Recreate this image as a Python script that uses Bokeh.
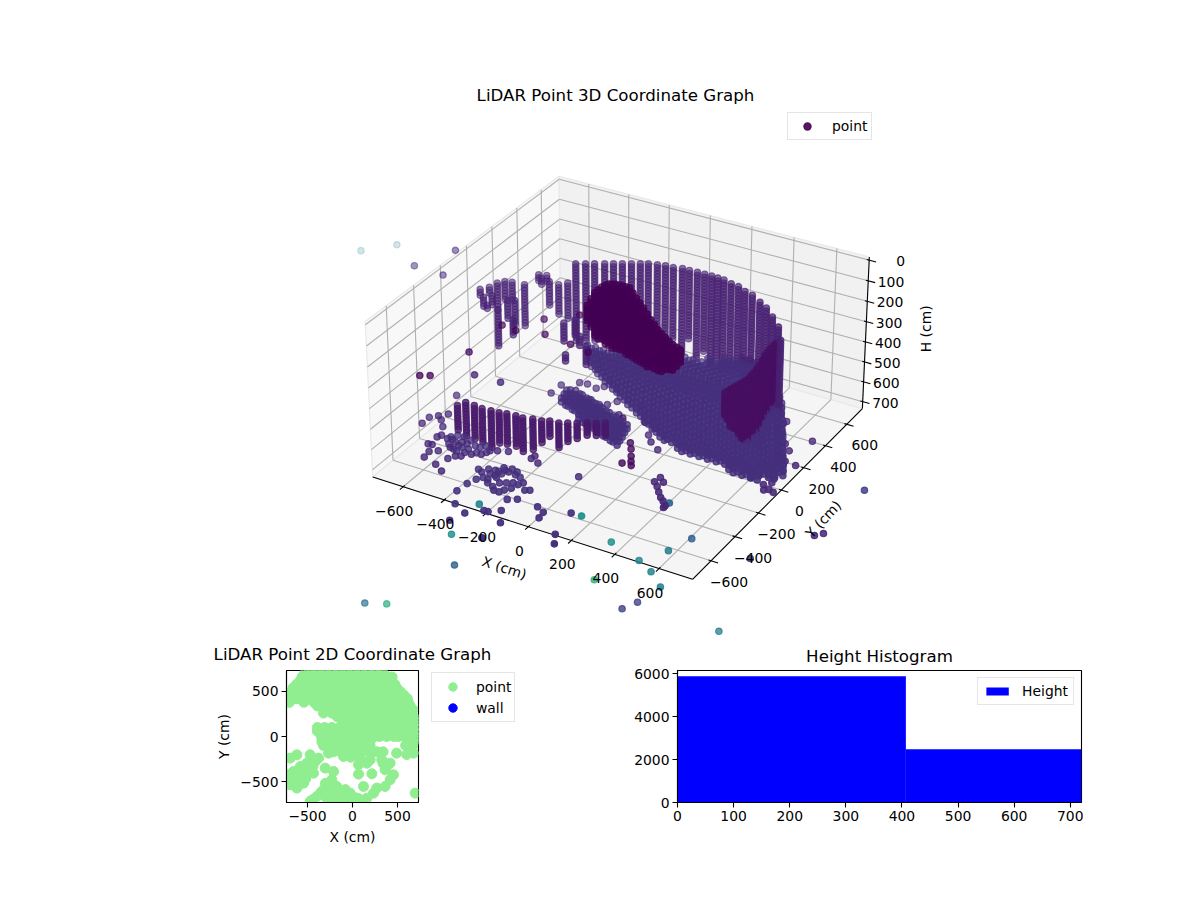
from bokeh.plotting import figure
from bokeh.layouts import column, row
from bokeh.models import (ColumnDataSource, FixedTicker, Legend, LegendItem, LinearColorMapper,
                          Range1d, Spacer)
from bokeh.core.properties import value
from bokeh.palettes import Viridis256
from bokeh.embed import file_html
from bokeh.resources import INLINE
import math

FONT = "DejaVu Sans"
TICK_PX = "13.9px"

# ---------------- 3D data: (X, Y, deepest H) columns ----------------
WALL_H = [250, 265, 280, 295, 310, 325, 340, 355, 370, 385, 400, 415, 430, 445, 460, 475, 490, 505, 520, 535, 550, 565,
          580, 595, 610, 625, 640, 655, 670, 685, 700]
WALL_COLS = [
    (-522, 505, 640), (-485, 526, 640), (-452, 546, 640), (-414, 567, 640), (-381, 586, 640), (-348, 605, 640),
    (-314, 625, 640), (-281, 644, 640), (-251, 661, 640), (-213, 673, 640), (-179, 683, 690), (-141, 685, 620),
    (-103, 697, 690), (-69, 697, 600), (-31, 699, 690), (4, 700, 640), (38, 700, 690), (69, 698, 660),
    (100, 696, 690), (143, 681, 690), (182, 674, 660), (226, 650, 680), (269, 635, 700), (325, 598, 700),
    (372, 566, 700), (430, 510, 700), (491, 447, 700), (550, 353, 700),
]
DARK_H = [300, 315, 330, 345, 360, 375, 390, 405, 420, 435, 450, 465, 480, 495, 510, 525, 540, 555, 570, 585, 600, 615,
          630, 645, 660, 675, 690, 705]
DARK_COLS = [
    (517, -66, 412), (520, -46, 445), (522, -25, 480), (526, -8, 500), (531, 8, 518), (535, 25, 545), (540, 42, 572),
    (542, 62, 590), (545, 83, 611), (543, 110, 620), (541, 138, 630), (538, 170, 660), (534, 201, 690), (524, 243, 700),
    (514, 285, 710), (510, 316, 705), (507, 347, 700), (507, 371, 650), (508, 395, 600),
]
BLOB_H = [100, 115, 130, 145, 160, 175, 190, 205, 220, 235, 250, 265, 280, 295, 310, 325, 340, 355, 370, 385, 400, 415, 430, 445]
BLOB_COLS = [
    (-156, -16, 183), (-170, 38, 240), (-184, 92, 310), (-184, 120, 340), (-184, 149, 362), (-178, 167, 385),
    (-172, 185, 403), (-160, 192, 415), (-147, 199, 428), (-130, 200, 428), (-113, 200, 428), (-96, 200, 435),
    (-80, 200, 443), (-45, 168, 425), (-10, 136, 410), (23, 107, 395), (57, 78, 380), (94, 42, 360), (131, 7, 337),
    (164, -22, 320), (197, -50, 300), (226, -72, 280), (255, -93, 260), (282, -110, 240), (309, -128, 222),
    (332, -138, 195), (355, -149, 173),
]
FRONT_H = [500, 515, 530, 545, 560, 575, 590, 605, 620, 635, 650, 665, 680]
FRONT_COLS = [
    (-545, -414, 632), (-529, -376, 670), (-485, -379, 670), (-444, -384, 670), (-403, -380, 680), (-366, -377, 650),
    (-334, -368, 660), (-293, -364, 660), (-260, -364, 670), (-220, -350, 650), (-180, -346, 610), (-151, -330, 580),
    (-111, -325, 620), (-79, -307, 600), (-46, -288, 580), (-11, -267, 565), (22, -249, 570), (54, -230, 565),
]
BACK_H = [400, 415, 430, 445, 460, 475, 490, 505, 520, 535, 550, 565, 580, 595, 610]
BACK_COLS = [
    (-902, 330, 440), (-851, 277, 450), (-799, 224, 420), (-878, 367, 440), (-827, 307, 450), (-868, 416, 540),
    (-736, 210, 580), (-847, 444, 500), (-746, 305, 500), (-635, 170, 480), (-816, 454, 500), (-719, 320, 520),
    (-758, 463, 620), (-752, 572, 430), (-723, 549, 440), (-718, 584, 430), (-679, 541, 530), (-629, 537, 560),
    (-602, 569, 590), (-433, 254, 500), (-287, 24, 430), (-406, 302, 480), (-316, 189, 450), (-249, 129, 500),
]
# each scanned row of the ramp was hit at several heights, each with a slight sideways step (H, X step)
RAMP_LEVELS = [(590, 0), (600, 20), (610, 0), (620, 20)]
RAMP_ROWS = [
    (-140, [580, 620, 660, 690]),
    (-100, [320, 360, 400, 440, 480, 520, 560, 600, 640, 680, 720, 745]),
    (-60, [215, 250, 290, 330, 370, 410, 450, 490, 530, 570, 610, 650, 690, 730, 765]),
    (-20, [155, 195, 235, 275, 315, 355, 395, 435, 475, 515, 555, 595, 635, 675, 715, 745]),
    (20, [95, 135, 175, 215, 255, 295, 335, 375, 415, 455, 495, 535, 575, 615, 655, 695, 725]),
    (60, [35, 75, 115, 155, 195, 235, 275, 315, 355, 395, 435, 475, 515, 555, 595, 635, 675, 700]),
    (100, [-30, 10, 50, 90, 130, 170, 210, 250, 290, 330, 370, 410, 450, 490, 530, 570, 610, 650, 680]),
    (140, [-90, -50, -10, 30, 70, 110, 150, 190, 230, 270, 310, 350, 390, 430, 470, 510, 550, 590, 630, 660]),
    (180, [-150, -110, -70, -30, 10, 50, 90, 130, 170, 210, 250, 290, 330, 370, 410, 450, 490, 530, 570, 610, 640]),
    (220, [-210, -170, -130, -90, -50, -10, 30, 70, 110, 150, 190, 230, 270, 310, 350, 390, 430, 470, 510, 550, 590, 615]),
    (260, [-270, -230, -190, -150, -110, -70, -30, 10, 50, 90, 130, 170, 210, 250, 290, 330, 370, 410, 450, 490, 530, 570, 595]),
    (300, [-325, -285, -245, -205, -165, -125, -85, -45, -5, 35, 75, 115, 155, 195, 235, 275, 315, 355, 395, 435, 475, 515, 555, 575]),
    (340, [-355, -315, -275, -235, -195, -155, -115, -75, -35, 5, 45, 85, 125, 165, 205, 245, 285, 325, 365, 405, 445, 485, 525, 550]),
    (380, [-385, -345, -305, -265, -225, -185, -145, -105, -65, -25, 15, 55, 95, 135, 175, 215, 255, 295, 335, 375, 415, 455, 495, 530]),
    (420, [-415, -375, -335, -295, -255, -215, -175, -135, -95, -55, -15, 25, 65, 105, 145, 185, 225, 265, 305, 345, 385, 425, 465, 510]),
    (460, [-295, -255, -215, -175, -135, -95, -55, -15, 25, 65, 105, 145, 185, 225, 265, 305, 345, 385, 425, 480]),
    (500, [-150, -110, -70, -30, 10, 50, 90, 130, 170, 210, 250, 290, 330, 370, 410, 448]),
    (540, [0, 40, 80, 120, 160, 200, 240, 280, 320, 360, 414]),
    (580, [90, 130, 170, 210, 250, 290, 330, 393]),
    (620, [150, 190, 230, 270, 310, 363]),
    (660, [210, 250, 290, 333]),
]
LOBE_XY = [
    (-282, -20), (-240, -37), (-197, -54), (-155, -71), (-112, -88), (-70, -105), (-27, -122), (16, -140), (59, -157),
    (-289, 13), (-247, -4), (-204, -21), (-162, -38), (-119, -55), (-77, -72), (-34, -89), (9, -107), (52, -124),
    (-297, 47), (-255, 30), (-212, 13), (-170, -4), (-127, -21), (-85, -38), (-42, -55), (1, -73), (44, -90),
    (-148, -104), (-105, -121), (-63, -138), (-20, -155), (23, -173), (66, -190),
    (-262, 63), (-219, 46), (-177, 29), (-134, 12), (-92, -5), (-49, -22), (-6, -40), (37, -57),
]
LOW_H = 650
LOW_SCATTER = [
    (-731, -404), (-731, -349), (-705, -319), (-677, -286), (-677, -341), (-641, -384), (-617, -465), (-609, -444),
    (-619, -530), (-602, -526), (-583, -578), (-576, -625), (-553, -555), (-505, -648), (-486, -586), (-456, -680),
    (-572, -455), (-550, -451), (-470, -554), (-449, -543), (-525, -507), (-506, -512), (-502, -478), (-504, -447),
    (-480, -449), (-420, -510), (-385, -489), (-369, -448), (-342, -433), (-300, -415), (-190, -415), (-148, -432), (-187, -391),
    (-393, 78), (-391, 158), (-336, 142), (-333, 214), (-298, 221), (-248, 209), (-225, 238), (-222, 288), (-164, 242),
    (-218, 115), (-167, 97), (-138, 114), (-115, 158), (-54, 67), (-730, -139),
]
FLOOR_CLUSTER = [
    (-333, -593), (-297, -572), (-269, -566), (-249, -532), (-214, -524), (-185, -533), (-300, -663), (-283, -637),
    (-259, -639), (-249, -601), (-232, -576), (-215, -550), (-180, -555), (-213, -676), (-169, -698), (-158, -676),
    (-141, -650), (-131, -613), (-120, -591), (-111, -729), (-76, -708), (-68, -625), (-86, -635), (-314, -709),
    (-320, -776), (-245, -663), (-236, -610), (-274, -861), (-204, -899), (-227, -974), (-148, -845), (-129, -844),
    (-88, -811), (-43, -889), (-49, -1017), (23, -715), (64, -739), (71, -782), (188, -852), (220, -912), (163, -688), (50, -439),
    (-567, -436), (-550, -410), (-519, -408), (-481, -418), (-528, -461), (-484, -483), (-453, -481), (-443, -444),
    (-418, -445), (-407, -423), (-545, -487), (-451, -512), (-488, -517), (-409, -488), (-374, -467),
    (-310, -605), (-273, -600), (-253, -566), (-234, -545), (-153, -562), (-179, -625), (-156, -611), (-203, -639), (-194, -697),
]
RIGHT_DARK = [
    (-8, 179), (41, 122), (71, 139), (73, 67), (98, 91), (130, 46), (-26, 51), (100, -105), (127, -146), (155, -194),
    (175, -230), (192, -258), (150, -260),
]
RIGHT_LOOSE = [
    (135, -14), (171, -57), (225, -96), (335, -318), (340, -278), (368, -303), (362, -344), (388, -377), (415, -409),
    (437, -428), (460, -453), (461, -468), (581, 370), (503, 436), (535, 407), (576, 351), (611, 276), (658, 208),
    (698, 167), (694, 118), (721, 86), (731, 28), (741, -46), (750, -88), (727, -117), (747, -153), (763, -138),
    (788, -149), (666, -25), (663, 20), (673, 58), (663, 131), (680, -65), (658, -94), (600, -63), (562, -38), (531, -40),
    (746, 282), (773, 78),
]
DARK_SINGLES = [
    (-651, 108), (-577, 97), (-524, 242), (-452, 131), (-411, 349), (-315, 112), (-216, 90), (-649, -157), (-720, -424), (-683, -403),
]
# far points: X, Y, H, colour value
OUTLIERS = [
    (-820, -753, 1400, 0.38), (-736, -712, 1400, 0.62), (574, -188, 1400, 0.42), (151, -490, 1100, 0.65),
    (284, -492, 1200, 0.20), (315, -419, 1200, 0.20), (482, -526, 1000, 0.45), (395, -449, 1000, 0.45),
    (312, -402, 1000, 0.45), (452, -408, 900, 0.42), (491, -283, 900, 0.30), (833, -424, 800, 0.25),
    (978, -147, 800, 0.12), (1003, -116, 800, 0.12), (1067, 119, 700, 0.20), (-323, -807, 1000, 0.32),
    (-374, -745, 900, 0.50), (220, -469, 900, 0.50), (-2200, 1276, 1000, 0.45), (-2083, 1414, 1000, 0.42),
    (-1270, 370, 400, 0.15), (-1089, 428, 300, 0.13), (-1113, 360, 400, 0.13), (-189, -815, 650, 0.45),
    (210, -686, 650, 0.50), (-527, -306, 400, 0.10), (-402, -304, 400, 0.12), (465, -427, 650, 0.32),
]
COL_WALL, COL_DARK, COL_BLOB, COL_FRONT, COL_BACK, COL_RAMP = 0.09, 0.04, 0.0, 0.07, 0.10, 0.14

AXIS_TICKS = [-600, -400, -200, 0, 200, 400, 600]
H_TICKS = [0, 100, 200, 300, 400, 500, 600, 700]

# ---------------- 2D scatter ----------------
MASS_ROWS = [
    (740, [-480, -400, -320, -240, -160, -80, 0, 80, 160, 240, 320]),
    (700, [-530, -450, -370, -290, -210, -130, -50, 30, 110, 190, 270, 345]),
    (660, [-560, -480, -400, -320, -240, -160, -80, 0, 80, 160, 240, 320, 400, 440]),
    (620, [-580, -500, -420, -340, -260, -180, -100, -20, 60, 140, 220, 300, 380, 437]),
    (580, [-620, -540, -460, -380, -300, -220, -140, -60, 20, 100, 180, 260, 340, 420, 470]),
    (540, [-660, -580, -500, -420, -340, -260, -180, -100, -20, 60, 140, 220, 300, 380, 440, 490]),
    (500, [-680, -620, -540, -460, -380, -300, -220, -140, -60, 20, 100, 180, 260, 340, 420, 500, 530]),
    (460, [-680, -600, -520, -440, -360, -280, -200, -120, -40, 40, 120, 200, 280, 360, 440, 520, 570]),
    (420, [-620, -540, -460, -380, -300, -220, -140, -60, 20, 100, 180, 260, 340, 420, 500, 580, 610]),
    (380, [-700, -540, -430, -350, -270, -190, -110, -30, 50, 130, 210, 290, 370, 450, 530, 620]),
    (340, [-390, -310, -230, -150, -70, 10, 90, 170, 250, 330, 410, 490, 570, 640]),
    (300, [-270, -190, -110, -30, 50, 130, 210, 290, 370, 450, 530, 610, 670]),
    (260, [-322, -230, -150, -70, 10, 90, 170, 250, 330, 410, 490, 570, 650]),
    (220, [-170, -90, -10, 70, 150, 230, 310, 390, 470, 550, 630, 680]),
    (180, [-110, -30, 50, 130, 210, 290, 370, 450, 530, 610, 680]),
    (140, [-50, 30, 110, 190, 270, 350, 430, 510, 590, 680]),
    (100, [-390, -310, -230, -150, -70, 10, 90, 170, 250, 330, 410, 490, 570, 650, 690]),
    (60, [-390, -310, -230, -150, -70, 10, 90, 170, 250, 330, 410, 490, 570, 650, 690]),
    (20, [-350, -270, -190, -110, -30, 50, 130, 210, 290, 370, 450, 530, 610, 680]),
    (0, [300, 380, 460, 510]),
    (-20, [-340, -260, -180, -100, -20, 60, 140, 220, 600, 680]),
    (-60, [-340, -260, -180, -100, -20, 60, 140, 190, 610, 680]),
    (-100, [-322, -220, -140, -60, 20, 100, 180, 195, 590, 670]),
    (-170, [-210, -130, -50, 30, 110, 190, 270, 340]),
]
SPOTS_2D = [
    (-266, -185), (-100, -222), (-20, -230), (85, -240), (196, -259), (307, -185), (325, -259), (362, -370), (418, -481),
    (455, -425), (418, -296), (380, -330), (340, -300), (67, -314), (67, -418), (215, -414), (122, -555), (160, -296),
    (270, -573), (362, -555), (233, -629), (159, -685), (70, -690), (-26, -629), (-137, -629), (-174, -555), (-229, -481),
    (-211, -388), (-300, -520), (-396, -666), (-322, -592), (-230, -592), (-440, -700), (-470, -720), (-280, -666),
    (-137, -700), (10, -700), (-210, -690), (-60, -700), (490, -185), (677, -185), (603, -200), (-692, -240), (-618, -204),
    (-470, -203), (-377, -240), (-303, -351), (-414, -277), (-507, -296), (-580, -333), (-655, -388), (-710, -425),
    (-673, -481), (-590, -420), (-488, -370), (-433, -407), (-544, -518), (-618, -573), (-692, -536), (-600, -481),
    (-507, -425), (696, -629), (-350, -620), (-280, -600), (-230, -520), (-170, -640), (-100, -660), (-80, -590), (30, -680),
    (-290, -680), (-200, -560), (-250, -640), (-600, -540), (-640, -500), (-560, -430), (-640, -430), (-520, -470),
    (-560, -370), (-620, -390), (-440, -330), (-710, -500),
]
TICKS_2D = [-500, 0, 500]
NO_DATA = [float("nan")]

# ---------------- histogram ----------------
BIN_LEFT = [0, 407]
BIN_RIGHT = [407, 720]
BIN_COUNT = [5876, 2472]

# ---------------- projection of the 3D view ----------------
HX, HZ, DIST = 0.595, 0.29, 10.0
S, OX, OY = 3055.0, 621.6, 366.0
PANE = 750.0
H_MID, H_HALF = 360.0, 375.0

def project(X, Y, H):
    qx, qy, qz = HX * X / PANE, HX * Y / PANE, -HZ * (H - H_MID) / H_HALF
    xv = 0.8660 * qx + 0.5 * qy
    yv = -0.25 * qx + 0.4330 * qy + 0.8660 * qz
    nq = 0.4330 * qx - 0.75 * qy + 0.5 * qz
    depth = DIST - nq
    return xv / depth, yv / depth, depth

pts = []
for cols, levels, c in ((WALL_COLS, WALL_H, COL_WALL), (DARK_COLS, DARK_H, COL_DARK), (BLOB_COLS, BLOB_H, COL_BLOB),
                        (FRONT_COLS, FRONT_H, COL_FRONT), (BACK_COLS, BACK_H, COL_BACK)):
    for X, Y, hb in cols:
        for H in levels:
            if H <= hb:
                pts.append((X, Y, H, c))
for H, step in RAMP_LEVELS:
    for Y, xs in RAMP_ROWS:
        for X in xs:
            pts.append((X + step, Y, H, COL_RAMP))
    for X, Y in LOBE_XY:
        pts.append((X + step, Y, H, COL_RAMP))
for X, Y in LOW_SCATTER:
    pts.append((X, Y, LOW_H, 0.11))
for X, Y in FLOOR_CLUSTER:
    pts.append((X, Y, LOW_H, 0.14))
for X, Y in RIGHT_DARK:
    pts.append((X, Y, LOW_H, 0.03))
for X, Y in RIGHT_LOOSE:
    pts.append((X, Y, LOW_H, 0.11))
for X, Y in DARK_SINGLES:
    pts.append((X, Y, 400, 0.02))
pts.extend(OUTLIERS)

proj = [project(*p[:3]) + (p[3],) for p in pts]
dmax = max(p[2] for p in proj)
dmin = min(p[2] for p in proj)
proj.sort(key=lambda p: -p[2])
src = ColumnDataSource(dict(
    x=[p[0] for p in proj], y=[p[1] for p in proj], c=[p[3] for p in proj],
    a=[0.2 + 0.8 * ((dmax - p[2]) / (dmax - dmin)) ** 1.3 for p in proj],
))
legend_index = max((i for i, p in enumerate(proj) if p[3] == 0.0))

# ---------------- top figure ----------------
F_L, F_R, F_T, F_B = 38.0, 1192.0, 109.0, 637.0
p3 = figure(width=1154, frame_width=1154, frame_height=int(F_B - F_T), output_backend="svg", toolbar_location=None,
            x_range=Range1d((F_L - OX) / S, (F_R - OX) / S), y_range=Range1d((OY - F_B) / S, (OY - F_T) / S),
            title="LiDAR Point 3D Coordinate Graph", min_border=0, outline_line_color=None)
p3.axis.visible = False
p3.grid.visible = False
p3.title.align = "center"
p3.title.text_font = FONT
p3.title.text_font_size = "16.67px"
p3.title.text_font_style = "normal"
p3.title.text_color = "black"

def segs(list3d):
    xs, ys = [], []
    for a, b in list3d:
        pa, pb = project(*a), project(*b)
        xs.append([pa[0], pb[0]])
        ys.append([pa[1], pb[1]])
    return xs, ys

def pane(corners, fill):
    pr = [project(*c) for c in corners]
    p3.patch([q[0] for q in pr], [q[1] for q in pr], fill_color=fill, line_color="#e9e9e9", line_width=1.2)

Pn, Hlo, Hhi = PANE, -15, 735
pane([(-Pn, -Pn, Hhi), (-Pn, Pn, Hhi), (-Pn, Pn, Hlo), (-Pn, -Pn, Hlo)], "#f8f8f8")
pane([(-Pn, Pn, Hhi), (Pn, Pn, Hhi), (Pn, Pn, Hlo), (-Pn, Pn, Hlo)], "#f1f1f1")
pane([(-Pn, -Pn, Hhi), (Pn, -Pn, Hhi), (Pn, Pn, Hhi), (-Pn, Pn, Hhi)], "#f5f5f5")

grid = []
for t in AXIS_TICKS:
    grid.append(((t, -Pn, Hhi), (t, Pn, Hhi)))
    grid.append(((t, Pn, Hhi), (t, Pn, Hlo)))
    grid.append(((-Pn, t, Hhi), (Pn, t, Hhi)))
    grid.append(((-Pn, t, Hhi), (-Pn, t, Hlo)))
for t in H_TICKS:
    grid.append(((-Pn, -Pn, t), (-Pn, Pn, t)))
    grid.append(((-Pn, Pn, t), (Pn, Pn, t)))
gx, gy = segs(grid)
p3.multi_line(gx, gy, line_color="#b0b0b0", line_width=1.1)

ax = [((-Pn, -Pn, Hhi), (Pn, -Pn, Hhi)), ((Pn, -Pn, Hhi), (Pn, Pn, Hhi)), ((Pn, Pn, Hhi), (Pn, Pn, Hlo))]
for t in AXIS_TICKS:
    ax.append(((t, -738, Hhi), (t, -775, Hhi)))
    ax.append(((739, t, Hhi), (782, t, Hhi)))
for t in H_TICKS:
    ax.append(((739, Pn, t), (782, Pn, t)))
ax_x, ax_y = segs(ax)
p3.multi_line(ax_x, ax_y, line_color="black", line_width=1.1)

mapper = LinearColorMapper(palette=Viridis256, low=0, high=1)
r3 = p3.scatter("x", "y", source=src, size=6.4, line_width=1.2,
                fill_color={"field": "c", "transform": mapper}, line_color={"field": "c", "transform": mapper},
                fill_alpha="a", line_alpha="a")

def labels(ptsw, texts, dx, dy, align="center"):
    pr = [project(*c) for c in ptsw]
    p3.text([q[0] for q in pr], [q[1] for q in pr], text=texts, x_offset=dx, y_offset=dy, text_align=align,
            text_baseline="middle", text_font=value(FONT), text_font_size=TICK_PX, text_color="black")

def num(t):
    return str(t).replace("-", "\u2212")

labels([(t, -Pn, Hhi) for t in AXIS_TICKS], [num(t) for t in AXIS_TICKS], -9, 24)
labels([(Pn, t, Hhi) for t in AXIS_TICKS], [num(t) for t in AXIS_TICKS], 18, 21)
labels([(Pn, Pn, t) for t in H_TICKS], [str(t) for t in H_TICKS], 36, 1, "right")

def axis_title(pt, txt, dx, dy, deg):
    q = project(*pt)
    p3.text([q[0]], [q[1]], text=[txt], x_offset=dx, y_offset=dy, angle=math.radians(deg), text_align="center",
            text_baseline="middle", text_font=value(FONT), text_font_size=TICK_PX, text_color="black")

axis_title((0, -Pn, Hhi), "X (cm)", -24, 41, -18)
axis_title((Pn, 0, Hhi), "Y (cm)", 42, 29, 47)
axis_title((Pn, Pn, 360), "H (cm)", 60, -5, 90)

lg3 = Legend(items=[LegendItem(label="point", renderers=[r3], index=legend_index)], location=(749, 497),
             glyph_width=30, glyph_height=18, label_text_font=FONT, label_text_font_size=TICK_PX,
             label_text_color="black", border_line_color="#cccccc", padding=4, spacing=0,
             label_standoff=10, margin=0, background_fill_alpha=0.8)
p3.add_layout(lg3, "center")

# ---------------- 2D figure ----------------
x2, y2 = [], []
for Y, xs in MASS_ROWS:
    for X in xs:
        x2.append(X)
        y2.append(Y)
for X, Y in SPOTS_2D:
    x2.append(X)
    y2.append(Y)

def style_title(p):
    p.title.text_font = FONT
    p.title.text_font_size = "16.67px"
    p.title.text_font_style = "normal"
    p.title.text_color = "black"
    p.title.align = "center"

def style_axes(p):
    for a in (p.xaxis[0], p.yaxis[0]):
        a.major_tick_in = 0
        a.major_tick_out = 5
        a.minor_tick_line_color = None
        a.major_label_text_font = FONT
        a.major_label_text_font_size = TICK_PX
        a.major_label_text_color = "black"
        a.axis_label_text_font = FONT
        a.axis_label_text_font_size = TICK_PX
        a.axis_label_text_font_style = "normal"
        a.axis_label_text_color = "black"
        a.axis_line_color = "black"
        a.axis_line_width = 1.1
        a.major_tick_line_width = 1.1
        a.major_tick_line_color = "black"
        a.major_label_standoff = 3
    p.grid.visible = False
    p.outline_line_color = "black"
    p.outline_line_width = 1.1

# the title of the 2D graph is wider than the axes' canvas, so it has its own strip above them
pt = figure(frame_width=132, frame_height=1, output_backend="svg", toolbar_location=None,
            x_range=Range1d(0, 1), y_range=Range1d(0, 1), title="LiDAR Point 2D Coordinate Graph",
            min_border_left=286, min_border_right=182, min_border_top=0, min_border_bottom=0, outline_line_color=None)
pt.axis.visible = False
pt.grid.visible = False
style_title(pt)

p2 = figure(frame_width=132, frame_height=132, output_backend="svg", toolbar_location=None,
            x_range=Range1d(-733, 733), y_range=Range1d(-733, 733),
            min_border_left=286, min_border_right=3, min_border_top=1, min_border_bottom=49,
            x_axis_label="X (cm)", y_axis_label="Y (cm)")
style_axes(p2)
p2.xaxis[0].ticker = FixedTicker(ticks=TICKS_2D)
p2.yaxis[0].ticker = FixedTicker(ticks=TICKS_2D)
p2.xaxis[0].major_label_overrides = {t: num(t) for t in TICKS_2D}
p2.yaxis[0].major_label_overrides = {t: num(t) for t in TICKS_2D}
p2.scatter(x2, y2, size=10, color="#90ee90")

# legend of the 2D graph: it lies beside the axes, so it has its own narrow canvas
pl = figure(frame_width=179, frame_height=182, output_backend="svg", toolbar_location=None, min_border=0,
            x_range=Range1d(0, 1), y_range=Range1d(0, 1), outline_line_color=None)
pl.axis.visible = False
pl.grid.visible = False
r_pt = pl.scatter(NO_DATA, NO_DATA, size=10, color="#90ee90")
r_wall = pl.scatter(NO_DATA, NO_DATA, size=10, color="#0000ff")
lg2 = Legend(items=[LegendItem(label="point", renderers=[r_pt]), LegendItem(label="wall", renderers=[r_wall])],
             location=(10, 129), glyph_width=35, glyph_height=21, spacing=-1,
             label_text_font=FONT, label_text_font_size=TICK_PX, label_text_color="black",
             border_line_color="#cccccc", padding=3, label_standoff=6, margin=0)
pl.add_layout(lg2, "center")

# ---------------- histogram ----------------
ph = figure(frame_width=404, frame_height=132, output_backend="svg", toolbar_location=None,
            x_range=Range1d(0, 720), y_range=Range1d(0, 6140), title="Height Histogram",
            min_border_left=77, min_border_right=20, min_border_top=33, min_border_bottom=49)
style_axes(ph)
style_title(ph)
ph.xaxis[0].ticker = FixedTicker(ticks=[0, 100, 200, 300, 400, 500, 600, 700])
ph.yaxis[0].ticker = FixedTicker(ticks=[0, 2000, 4000, 6000])
r_h = ph.quad(left=BIN_LEFT, right=BIN_RIGHT, bottom=0, top=BIN_COUNT, color="#0000ff", line_color=None)
lgh = Legend(items=[LegendItem(label="Height", renderers=[r_h])], location="top_right", glyph_width=28, glyph_height=10,
             label_text_font=FONT, label_text_font_size=TICK_PX, label_text_color="black",
             border_line_color="#cccccc", padding=5, label_standoff=11, margin=7)
ph.add_layout(lgh, "center")

layout = column(Spacer(height=78),
                row(Spacer(width=38), p3),
                row(column(pt, row(p2, pl), spacing=0), ph), spacing=0)
open("out.html", "w").write(file_html(layout, INLINE))
